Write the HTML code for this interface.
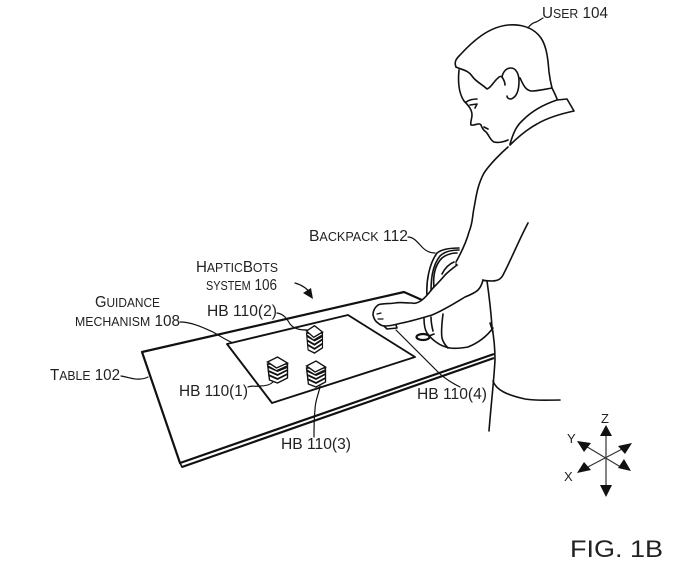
<!DOCTYPE html>
<html><head><meta charset="utf-8"><style>
html,body{margin:0;padding:0;background:#fff}
svg{display:block}
.l{fill:none;stroke:#111;stroke-width:1.6;stroke-linejoin:round;stroke-linecap:round}
.t{fill:none;stroke:#111;stroke-width:2.2;stroke-linejoin:round}
.n{fill:none;stroke:#111;stroke-width:1.2;stroke-linecap:round}
text{font-family:"Liberation Sans",sans-serif;font-size:15.5px;fill:#222}
tspan.s{font-size:12.5px}
</style></head><body>
<svg width="700" height="583" viewBox="0 0 700 583" xmlns="http://www.w3.org/2000/svg">
<defs>
<g id="st">
<path d="M-10,2 L-8,18 L0,21 L10,16 L10,2 Z" fill="#fff" stroke="#111" stroke-width="1.4"/>
<path d="M-9,9 L0,13 L10,8 M-9,13 L0,17 L10,12" fill="none" stroke="#111" stroke-width="1.8"/>
<path d="M-10,3 L-1,8 L10,3 L10,6 L0,10 L-9,6 Z" fill="#111"/>
<path d="M-10,0 L0,-5 L10,1 L-1,6 Z" fill="#fff" stroke="#111" stroke-width="1.4"/>
</g>
</defs>

<!-- table -->
<path class="t" d="M422,300 L404,292 L142,352 L180,463 L494,354"/>
<path class="t" d="M182,467 L494,358"/>
<path class="l" d="M180,463 L182,467"/>
<!-- mat -->
<path class="t" style="stroke-width:1.9" d="M227,344 L348,315 L415,357 L272,403 Z"/>

<!-- backpack -->
<path class="l" d="M424,318 C424,325 425,330 427,333 C430,337 433,340 436,342 C440,345 444,347 450,348 C456,349 462,348 468,347 C478,343 487,336 493,328"/>
<path class="l" d="M443,314 C442,322 441,332 442,338 C443,342 445,345 448,348"/>
<path class="l" d="M431,317 C431,322 432,327 433,331"/>
<path class="l" d="M427,296 C426,282 429,264 437,253 C442,249 450,248 459,248"/>
<path class="l" d="M431,292 C431,280 432,266 440,256 C445,251 452,250 459,250"/>
<path class="l" d="M434,288 C433,278 434,266 442,258 C447,254 453,253 457,253"/>
<path class="l" d="M442,274 C445,268 449,264 454,262"/>
<ellipse cx="423" cy="337" rx="6.5" ry="3" class="l" style="stroke-width:2.2"/>
<path class="l" d="M429,336 L434,334"/>

<!-- head -->
<path class="l" d="M456,67 C454,62 456,59 460,55 C472,42 488,27 508,25 C522,24 534,28 541,38 C547,47 548,60 549,72 C550,80 551,84 552,88 C554,92 556,96 557,99"/>
<path class="l" d="M456,67 C462,70 468,70 472,76 C476,82 482,84 487,89 C491,88 494,81 498,78 C500,76 501,76 502,77"/>
<path class="l" d="M502,77 C503,72 506,68 511,68 C516,68 519,74 519,81 C519,90 517,97 511,99 C509,99 507,98 507,96"/>
<path class="l" d="M502,77 C504,80 505,82 505,85"/>
<path class="l" d="M520,78 C523,84 525,90 531,91 C538,91 546,89 552,88"/>
<path class="l" d="M459,70 C458,80 458,92 464,101 C469,106 472,110 472,115 C472,119 470,122 471,125 C475,126 479,122 481,125 C482,128 483,130 486,132 C489,135 490,140 494,142 C498,143 504,142 508,140"/>
<path class="l" d="M466,102 C469,100 473,99 477,99"/>
<path class="l" d="M470,105 L477,104 L475,108"/>
<path class="l" d="M484,127 L488,129"/>
<!-- collar -->
<path class="l" d="M510,144 C513,134 516,126 523,120 C532,111 545,104 557,100 L567,99 L574,111 C560,114 547,118 537,124 C526,130 518,137 510,145"/>
<path class="l" d="M508,147 C498,156 490,164 484,173 C477,186 476,198 474,208 C472,218 473,222 469,232 C466,243 461,253 456,262"/>
<!-- sleeve -->
<path class="l" d="M456,264 C460,270 466,274 472,277 C478,280 486,281 492,281 C498,281 501,279 503,275 C510,262 519,240 528,223"/>
<!-- arm -->
<path d="M457,265 C453,268 449,271 445,275 C441,280 437,284 433,288 C429,293 426,297 422,300 C418,303 415,304 412,303 C406,303 400,302 395,303 C389,304 382,303 378,305 C374,308 373,312 373,315 C374,319 376,322 378,323 C380,325 383,326 385,326 C392,326 397,324 402,323 C412,321 422,318 432,315 C444,310 455,303 465,297 C470,295 475,293 478,290 C481,287 482,284 483,280 Z" fill="#fff"/>
<path class="l" d="M457,265 C453,268 449,271 445,275 C441,280 437,284 433,288 C429,293 426,297 422,300 C418,303 415,304 412,303 C406,303 400,302 395,303 C389,304 382,303 378,305 C374,308 373,312 373,315 C374,319 376,322 378,323 C380,325 383,326 385,326 C392,326 397,324 402,323 C412,321 422,318 432,315 C444,310 455,303 465,297 C470,295 475,293 478,290 C481,287 482,284 483,280"/>
<path class="l" d="M384,326 L387,329 L397,328 L396,325"/>
<path class="n" d="M377,314 L381,313 M378,319 L383,319"/>
<!-- torso -->
<path class="l" d="M487,281 C489,295 491,312 492,327 C494,338 495,350 495,360 C494,380 491,405 489,431"/>
<path class="l" d="M490,323 L493,332"/>
<path class="l" d="M493,381 C496,390 507,395 525,399 C537,401 548,400 560,400"/>

<!-- stacks -->
<g transform="translate(314.5,331) scale(.8,1.05)"><use href="#st"/></g>
<use href="#st" x="277.5" y="362"/>
<g transform="translate(316,366) scale(.95,1)"><use href="#st"/></g>

<!-- leaders -->
<path class="n" d="M528,28 C530,25 532,23 536,22 C539,21 541,19 543,18"/>
<path class="n" d="M408,237 C414,237 418,243 423,248 C427,252 431,253 435,253"/>
<path class="n" d="M277,313 C284,314 287,319 290,324 C294,329 300,330 307,330"/>
<path class="n" d="M180,322 C192,322 204,328 213,332 C220,336 226,340 233,343"/>
<path class="n" d="M121,376 C128,377 134,380 140,379 C144,379 146,378 148,377"/>
<path class="n" d="M248,387 C252,385 255,387 260,386 C266,386 270,385 273,382"/>
<path class="n" d="M320,386 C319,394 315,400 315,410 C314,418 314,428 314,437"/>
<path class="n" d="M396,330 L438,372 C445,379 452,383 460,387"/>
<path class="n" d="M295,283 C302,285 307,288 311,294"/>
<path d="M313,299 L303,293 L311,288 Z" fill="#111"/>

<!-- axes -->
<g stroke="#333" stroke-width="1.2">
<path d="M606,435 L606,488 M584,445 L624,469 M584,469 L626,447"/>
</g>
<g fill="#111">
<path d="M606,425 L612,436 L600,436 Z"/>
<path d="M606,497 L600,485 L612,485 Z"/>
<path d="M577,441 L591,443 L584,452 Z"/>
<path d="M577,473 L584,462 L591,470 Z"/>
<path d="M632,443 L625,454 L618,446 Z"/>
<path d="M631,471 L618,468 L624,459 Z"/>
</g>

<!-- labels -->
<text x="542" y="18" textLength="66" lengthAdjust="spacingAndGlyphs">U<tspan class="s">SER</tspan> 104</text>
<text x="309" y="241" textLength="99" lengthAdjust="spacingAndGlyphs">B<tspan class="s">ACKPACK</tspan> 112</text>
<text x="196" y="272" textLength="82" lengthAdjust="spacingAndGlyphs">H<tspan class="s">APTIC</tspan>B<tspan class="s">OTS</tspan></text>
<text x="206" y="290" textLength="71" lengthAdjust="spacingAndGlyphs"><tspan class="s">SYSTEM</tspan> 106</text>
<text x="95" y="307" textLength="65" lengthAdjust="spacingAndGlyphs">G<tspan class="s">UIDANCE</tspan></text>
<text x="75" y="326" textLength="105" lengthAdjust="spacingAndGlyphs"><tspan class="s">MECHANISM</tspan> 108</text>
<text x="50" y="380" textLength="70" lengthAdjust="spacingAndGlyphs">T<tspan class="s">ABLE</tspan> 102</text>
<text x="207" y="316" textLength="70" lengthAdjust="spacingAndGlyphs">HB 110(2)</text>
<text x="179" y="396" textLength="69" lengthAdjust="spacingAndGlyphs">HB 110(1)</text>
<text x="281" y="449" textLength="70" lengthAdjust="spacingAndGlyphs">HB 110(3)</text>
<text x="417" y="399" textLength="70" lengthAdjust="spacingAndGlyphs">HB 110(4)</text>
<text x="601" y="423" style="font-size:13px">Z</text>
<text x="567" y="443" style="font-size:13px">Y</text>
<text x="564" y="481" style="font-size:13px">X</text>
<text x="570" y="557" style="font-size:24px" textLength="93" lengthAdjust="spacingAndGlyphs">FIG. 1B</text>
</svg>
</body></html>
